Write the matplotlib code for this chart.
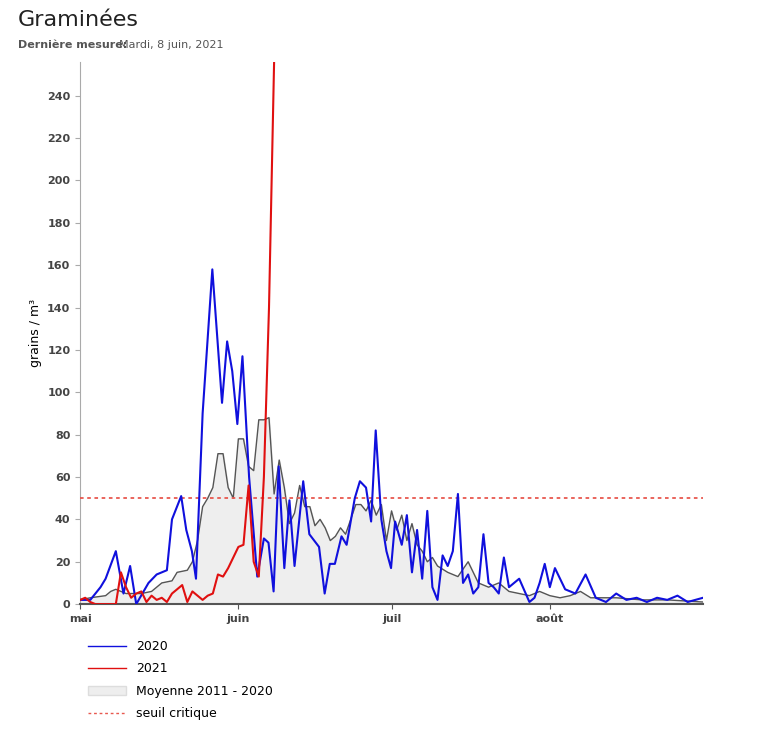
import numpy as np
import matplotlib
matplotlib.use('Agg')
import matplotlib.pyplot as plt
import matplotlib.patches as mpatches
import matplotlib.lines as mlines

# day index 0 = 1 May, 122 = 31 Aug
days_2020 = [0, 2, 4, 5, 7, 8.5, 9.8, 11, 13.4, 15, 17, 18, 19.8, 20.8, 21.9, 22.7, 24, 25.9, 27.8, 28.8,
             29.8, 30.8, 31.8, 33.1, 34.7, 36, 36.9, 37.9, 38.9, 40, 41, 42, 43.7, 44.9, 46.8, 47.9, 48.9,
             49.9, 51.2, 52.2, 53.8, 54.8, 56, 57, 57.9, 59, 60, 60.9, 61.7, 63, 64, 65, 66, 67, 68, 69, 70,
             71, 72, 73, 74, 75, 76, 77, 78, 79, 80, 81, 82, 83, 84, 86, 88, 89, 90, 91, 92, 93, 95, 97, 99,
             101, 103, 105, 107, 109, 111, 113, 115, 117, 119, 122]
vals_2020 = [2, 2, 8, 12, 25, 5, 18, 0, 10, 14, 16, 40, 51, 35, 25, 12, 90, 158, 95, 124,
             110, 85, 117, 60, 13, 31, 29, 6, 65, 17, 49, 18, 58, 33, 27, 5, 19,
             19, 32, 28, 50, 58, 55, 39, 82, 40, 25, 17, 39, 28, 42, 15, 35, 12, 44, 8, 2,
             23, 18, 25, 52, 10, 14, 5, 8, 33, 10, 8, 5, 22, 8, 12, 1, 3, 10, 19, 8, 17, 7, 5, 14,
             3, 1, 5, 2, 3, 1, 3, 2, 4, 1, 3]

days_2021 = list(range(0, 39))
vals_2021 = [2, 3, 1, 0, 0, 0, 0, 0, 15, 8, 3, 5, 6, 1, 4, 2, 3, 1, 5, 7,
             9, 1, 6, 4, 2, 4, 5, 14, 13, 17, 22, 27, 28, 56, 20, 13, 60, 140, 256]

days_mean = [0, 2, 5, 6, 7, 9, 12, 14, 16, 18, 19, 21, 22, 23, 24, 25, 26, 27, 28, 29, 30, 31, 32, 33,
             34, 35, 36, 37, 38, 39, 40, 41, 42, 43, 44, 45, 46, 47, 48, 49, 50, 51, 52, 53, 54, 55, 56,
             57, 58, 59, 60, 61, 62, 63, 64, 65, 66, 67, 68, 69, 70, 72, 74, 76, 78, 80, 82, 84, 86, 88,
             90, 92, 94, 96, 98, 100, 105, 110, 115, 122]
vals_mean = [2, 3, 4, 6, 7, 5, 5, 6, 10, 11, 15, 16, 20, 30, 46, 50, 55, 71, 71, 55, 50, 78, 78, 65,
             63, 87, 87, 88, 52, 68, 55, 38, 43, 56, 46, 46, 37, 40, 36, 30, 32, 36, 33, 40, 47, 47, 44,
             49, 42, 47, 30, 44, 35, 42, 30, 38, 28, 25, 20, 22, 18, 15, 13, 20, 10, 8, 10, 6, 5, 4,
             6, 4, 3, 4, 6, 3, 3, 2, 2, 1]

threshold = 50
month_ticks = [0, 31, 61, 92]
month_labels = ['mai', 'juin', 'juil', 'août']

fig = plt.figure(figsize=(7.7, 7.44), dpi=100)
ax = fig.add_axes([0.104, 0.188, 0.809, 0.729])

ax.fill_between(days_mean, vals_mean, color='#eeeeee', zorder=1)
ax.plot(days_mean, vals_mean, color='#555555', lw=1, zorder=2)
ax.axhline(threshold, color='#e8584f', ls=(0, (2, 2)), lw=1.3, zorder=3)
ax.plot(days_2020, vals_2020, color='#1010dd', lw=1.5, zorder=4)
ax.plot(days_2021, vals_2021, color='#e01010', lw=1.5, zorder=5)

ax.set_xlim(0, 122)
ax.set_ylim(0, 256)
ax.set_yticks(range(0, 241, 20))
ax.set_xticks(month_ticks)
ax.set_xticklabels(month_labels)
for s in ['top', 'right']:
    ax.spines[s].set_visible(False)
ax.spines['left'].set_color('#aaaaaa')
ax.spines['bottom'].set_color('#555555')
ax.spines['bottom'].set_linewidth(1.5)
ax.tick_params(axis='y', labelsize=8, colors='#aaaaaa', labelcolor='#444444')
ax.tick_params(axis='x', labelsize=8, colors='#555555', labelcolor='#444444')
for lbl in ax.get_xticklabels() + ax.get_yticklabels():
    lbl.set_fontweight('bold')
ax.set_ylabel('grains / m³', fontsize=9)

fig.text(0.023, 0.965, 'Graminées', fontsize=16, color='#222222')
fig.text(0.023, 0.935, 'Dernière mesure:', fontsize=8, fontweight='bold', color='#555555')
fig.text(0.155, 0.935, 'Mardi, 8 juin, 2021', fontsize=8, color='#555555')

handles = [mlines.Line2D([], [], color='#1010dd', lw=1),
           mlines.Line2D([], [], color='#e01010', lw=1),
           mpatches.Patch(facecolor='#eeeeee', edgecolor='#dddddd'),
           mlines.Line2D([], [], color='#e8584f', ls=(0, (2, 2)), lw=1)]
labels = ['2020', '2021', 'Moyenne 2011 - 2020', 'seuil critique']
fig.legend(handles, labels, loc='upper left', bbox_to_anchor=(0.1, 0.155), frameon=False,
           fontsize=9, handlelength=3, labelspacing=0.75)

fig.savefig('out.png', dpi=100)
